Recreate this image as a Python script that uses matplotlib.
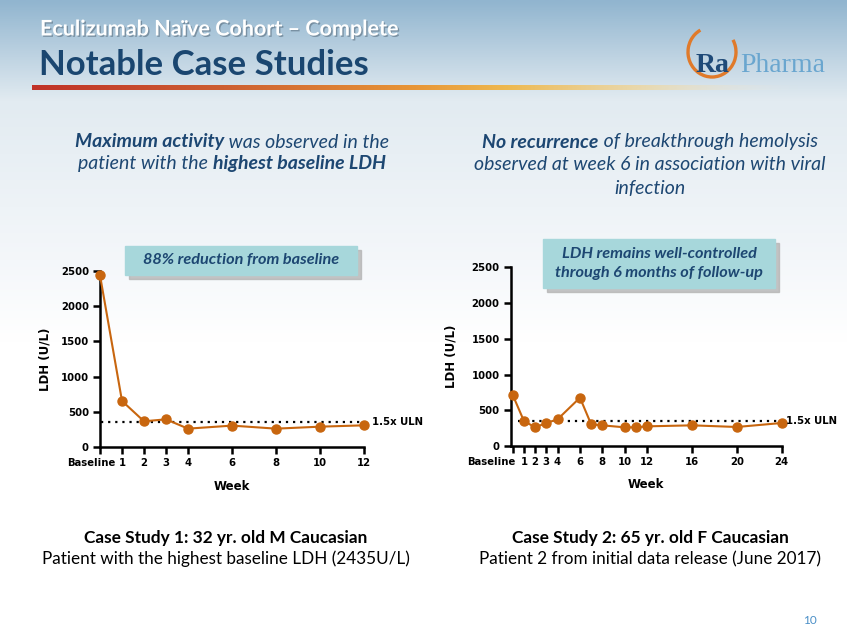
import numpy as np
import matplotlib
matplotlib.use("Agg")
import matplotlib.pyplot as plt
from matplotlib.patches import Rectangle, Arc
import matplotlib.patheffects as pe

# ---------------- data ----------------
weeks_1 = [0, 1, 2, 3, 4, 6, 8, 10, 12]
ldh_1 = [2435, 656, 368, 396, 264, 307, 264, 292, 311]
ticks_1 = [0, 1, 2, 3, 4, 6, 8, 10, 12]
ticklabels_1 = ["Baseline", "1", "2", "3", "4", "6", "8", "10", "12"]

weeks_2 = [0, 1, 2, 3, 4, 6, 7, 8, 10, 11, 12, 16, 20, 24]
ldh_2 = [714, 350, 261, 322, 373, 676, 303, 289, 261, 261, 275, 289, 266, 322]
ticks_2 = [0, 1, 2, 3, 4, 6, 8, 10, 12, 16, 20, 24]
ticklabels_2 = ["Baseline", "1", "2", "3", "4", "6", "8", "10", "12", "16", "20", "24"]

uln_15 = 352
yticks = [0, 500, 1000, 1500, 2000, 2500]

# ---------------- styling ----------------
W, H = 847, 635
SANS = ["Lato", "DejaVu Sans"]
AX_FONT = ["DejaVu Sans"]
DARK_BLUE = "#1d4772"
ORANGE = "#c8660f"

fig = plt.figure(figsize=(W / 100, H / 100), dpi=100)

# background axes in pixel coordinates
bg = fig.add_axes([0, 0, 1, 1])
bg.axis("off")

ys = np.linspace(0, 1, 300)
top = np.array([145, 181, 207]) / 255
mid = np.array([226, 235, 241]) / 255
low = np.array([244, 247, 250]) / 255
white = np.array([1.0, 1.0, 1.0])
cols = []
for t in ys:
    y = t * H
    if y < 100:
        f = y / 100
        c = top * (1 - f) + mid * f
    elif y < 260:
        f = (y - 100) / 160
        c = mid * (1 - f) + low * f
    elif y < 340:
        f = (y - 260) / 80
        c = low * (1 - f) + white * f
    else:
        c = white
    cols.append(c)
grad = np.array(cols)[:, None, :]
bg.imshow(grad, extent=[0, W, H, 0], aspect="auto", zorder=0)

# header accent line
n = 400
xs = np.linspace(0, 1, n)
stops = [(0.0, (192, 50, 40, 255)), (0.25, (205, 95, 50, 255)), (0.5, (232, 150, 55, 255)),
         (0.62, (238, 185, 80, 255)), (0.8, (238, 215, 160, 200)), (1.0, (235, 235, 235, 0))]
rgba = np.zeros((1, n, 4))
for i, x in enumerate(xs):
    for (a, ca), (b, cb) in zip(stops[:-1], stops[1:]):
        if a <= x <= b:
            f = (x - a) / (b - a)
            rgba[0, i] = (np.array(ca) * (1 - f) + np.array(cb) * f) / 255
            break
bg.imshow(rgba, extent=[32, 800, 90, 85], aspect="auto", zorder=1)
bg.set_xlim(0, W)
bg.set_ylim(H, 0)

# header texts
bg.text(40, 29, "Eculizumab Naïve Cohort – Complete", fontsize=15.5, fontweight="bold",
        color="white", family=SANS, va="center", ha="left", zorder=3,
        path_effects=[pe.withSimplePatchShadow(offset=(1, -1), shadow_rgbFace="#5a6f80", alpha=0.6)])
bg.text(39, 65, "Notable Case Studies", fontsize=25, fontweight="bold",
        color="#1a4670", family=SANS, va="center", ha="left", zorder=3)

# logo
bg.add_patch(Arc((712, 52), 48, 50, theta1=-30, theta2=242, lw=2.4, color="#e07a2a", zorder=3))
bg.text(713, 66, "Ra", fontsize=20, fontweight="bold", family=["Liberation Serif", "DejaVu Serif"],
        color="#1f4a78", ha="center", va="center", zorder=4)
bg.text(740, 66, "Pharma", fontsize=20, family=["Liberation Serif", "DejaVu Serif"],
        color="#6aa6cf", ha="left", va="center", zorder=4)

# subtitle texts (mixed bold / normal italic)
def rich_line(ax, xc, y, parts, fontsize=14):
    r = fig.canvas.get_renderer()
    texts = []
    for s, b in parts:
        t = ax.text(0, y, s, fontsize=fontsize, fontstyle="italic",
                    fontweight="bold" if b else "normal", color=DARK_BLUE,
                    family=SANS, va="center", ha="left", zorder=3)
        texts.append(t)
    widths = []
    inv = ax.transData.inverted()
    for t in texts:
        bb = t.get_window_extent(renderer=r)
        p0 = inv.transform((bb.x0, bb.y0))
        p1 = inv.transform((bb.x1, bb.y0))
        widths.append(p1[0] - p0[0])
    total = sum(widths)
    x = xc - total / 2
    for t, w in zip(texts, widths):
        t.set_x(x)
        x += w

rich_line(bg, 232, 142, [("Maximum activity", True), (" was observed in the", False)])
rich_line(bg, 232, 164, [("patient with the ", False), ("highest baseline LDH", True)])
rich_line(bg, 650, 142, [("No recurrence", True), (" of breakthrough hemolysis", False)])
rich_line(bg, 650, 165, [("observed at week 6 in association with viral", False)])
rich_line(bg, 650, 188, [("infection", False)])

def note_box(ax, x0, y0, x1, y1, lines):
    ax.add_patch(Rectangle((x0 + 4, y0 + 4), x1 - x0, y1 - y0, color="#b5b5b5", zorder=5, alpha=0.8))
    ax.add_patch(Rectangle((x0, y0), x1 - x0, y1 - y0, color="#a7d7db", zorder=6))
    n = len(lines)
    yc = (y0 + y1) / 2
    for i, s in enumerate(lines):
        yy = yc + (i - (n - 1) / 2) * 19
        ax.text((x0 + x1) / 2, yy, s, fontsize=11.7, fontstyle="italic", fontweight="bold",
                color=DARK_BLUE, family=SANS, ha="center", va="center", zorder=7)

# bottom captions
bg.text(226, 538, "Case Study 1: 32 yr. old M Caucasian", fontsize=12.4, fontweight="bold",
        color="black", family=SANS, ha="center", va="center", zorder=3)
bg.text(226, 559, "Patient with the highest baseline LDH (2435U/L)", fontsize=12.3,
        color="black", family=SANS, ha="center", va="center", zorder=3)
bg.text(650, 538, "Case Study 2: 65 yr. old F Caucasian", fontsize=12.4, fontweight="bold",
        color="black", family=SANS, ha="center", va="center", zorder=3)
bg.text(650, 559, "Patient 2 from initial data release (June 2017)", fontsize=12.3,
        color="black", family=SANS, ha="center", va="center", zorder=3)
bg.text(810, 620, "10", fontsize=8.5, color="#4a8fc7", family=SANS, ha="center", va="center", zorder=3)

# ---------------- charts ----------------
def make_chart(px0, px1, py_top, py_bot, xmin, xmax, weeks, ldh, ticks, labels,
               uln_x0, label_x, base_dx, ylab_dx):
    ax = fig.add_axes([px0 / W, 1 - py_bot / H, (px1 - px0) / W, (py_bot - py_top) / H])
    ax.set_facecolor("none")
    ax.set_xlim(xmin, xmax)
    ax.set_ylim(0, 2500)
    for s in ["top", "right"]:
        ax.spines[s].set_visible(False)
    for s in ["left", "bottom"]:
        ax.spines[s].set_linewidth(1.8)
    ax.plot([uln_x0, xmax], [uln_15, uln_15], linestyle=(0, (1, 2.2)), color="black", lw=1.6, zorder=2)
    ax.plot(weeks, ldh, color=ORANGE, lw=1.5, marker="o", markersize=6.5,
            markerfacecolor=ORANGE, markeredgecolor=ORANGE, clip_on=False, zorder=3)
    ax.set_xticks(ticks)
    ax.set_xticklabels([""] + labels[1:])
    ax.set_yticks(yticks)
    ax.set_yticklabels([str(v) for v in yticks])
    ax.tick_params(axis="both", width=1.8, length=5, labelsize=7.3, pad=3)
    for lab in ax.get_xticklabels() + ax.get_yticklabels():
        lab.set_fontweight("bold")
        lab.set_family(AX_FONT)
    # "Baseline" label sits to the left of the first tick
    ax.annotate(labels[0], xy=(ticks[0], 0), xycoords=("data", "axes fraction"),
                xytext=(base_dx * 0.72, -8), textcoords="offset points",
                ha="right", va="top", fontsize=7.3, fontweight="bold", family=AX_FONT)
    ax.set_xlabel("Week", fontsize=8.5, fontweight="bold", family=AX_FONT, labelpad=8)
    ax.set_ylabel("LDH (U/L)", fontsize=8.5, fontweight="bold", family=AX_FONT)
    ax.yaxis.set_label_coords(-ylab_dx / (px1 - px0), 0.5)
    ax.text(label_x, uln_15, "1.5x ULN", transform=ax.transData, fontsize=7.3, fontweight="bold",
            family=AX_FONT, va="center", ha="left", clip_on=False)
    return ax

ax1 = make_chart(100, 364, 270.7, 447.3, 0, 12, weeks_1, ldh_1, ticks_1, ticklabels_1,
                 0.05, 12.35, 15, 49)
ax2 = make_chart(510.7, 781.7, 267.3, 446, -0.18, 24, weeks_2, ldh_2, ticks_2, ticklabels_2,
                 0.5, 24.4, 3, 53)

note_box(bg, 125, 246, 357, 275, ["88% reduction from baseline"])
note_box(bg, 543, 239, 775, 288, ["LDH remains well-controlled", "through 6 months of follow-up"])

fig.savefig("out.png", dpi=100)
